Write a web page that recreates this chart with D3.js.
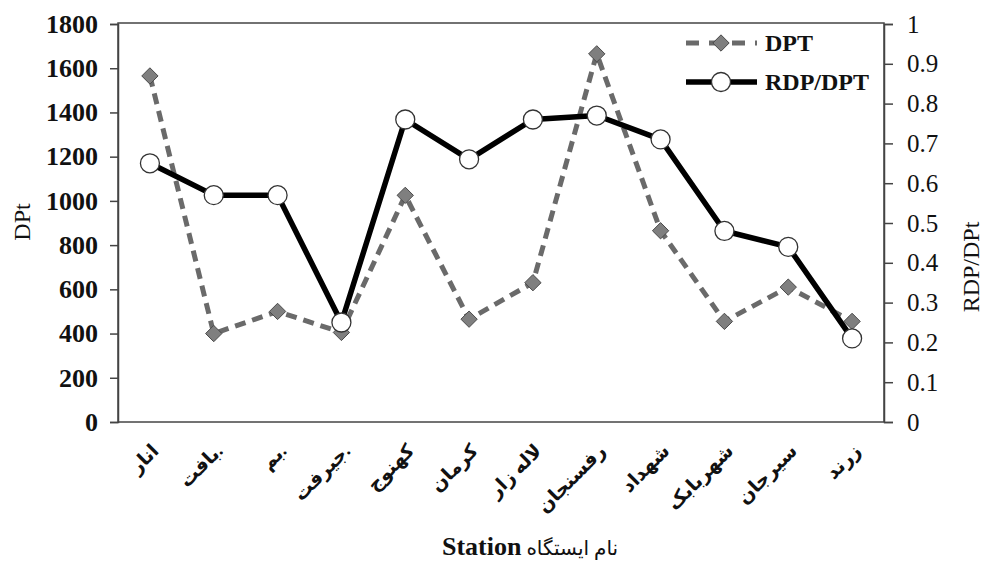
<!DOCTYPE html>
<html><head><meta charset="utf-8">
<script src="https://cdn.jsdelivr.net/npm/d3@7"></script>
<style>
body{margin:0;background:#fff;}
svg{display:block;}
</style></head>
<body>
<svg id="chart" width="983" height="563"></svg>
<script>
const stations = ["انار","بافت.","بم.","جیرفت.","کهنوج","کرمان","لاله زار","رفسنجان","شهداد","شهربابک","سیرجان","زرند"];
const dptValues = [1565,400,500,405,1025,465,630,1665,865,455,610,455];
const ratioValues = [0.65,0.57,0.57,0.25,0.76,0.66,0.76,0.77,0.71,0.48,0.44,0.21];
const leftTicks = [0,200,400,600,800,1000,1200,1400,1600,1800];
const rightTicks = [0,0.1,0.2,0.3,0.4,0.5,0.6,0.7,0.8,0.9,1];
const seriesNames = ["DPT","RDP/DPT"];

const svg = d3.select("#chart");
const L = 118, R = 884, T = 24, B = 422;
const serif = "'Liberation Serif','Times New Roman',serif";
const labelFont = "'Liberation Serif','DejaVu Sans',sans-serif";

const x = d3.scaleBand().domain(stations).range([L, R]);
const cx = d => x(d) + x.bandwidth()/2;
const yL = d3.scaleLinear().domain([0,1800]).range([B, T]);
const yR = d3.scaleLinear().domain([0,1]).range([B, T]);

// frame
svg.append("rect").attr("x",L).attr("y",T-1).attr("width",R-L).attr("height",B-T+1)
  .attr("fill","none").attr("stroke","#444").attr("stroke-width",1.5);

// left axis
const ga = svg.append("g").attr("transform",`translate(${L},0)`)
  .call(d3.axisLeft(yL).tickValues(leftTicks).tickSize(8).tickPadding(12).tickFormat(d3.format("d")));
ga.select(".domain").attr("stroke","#444").attr("stroke-width",1.5);
ga.selectAll(".tick line").attr("stroke","#444").attr("stroke-width",1.5);
ga.selectAll(".tick text").attr("font-family",serif).attr("font-weight","bold").attr("font-size",26).attr("fill","#111");

// right axis
const gr = svg.append("g").attr("transform",`translate(${R},0)`)
  .call(d3.axisRight(yR).tickValues(rightTicks).tickSize(9).tickPadding(14).tickFormat(d => d===0||d===1 ? String(d) : d3.format(".1f")(d)));
gr.select(".domain").attr("stroke","#444").attr("stroke-width",1.5);
gr.selectAll(".tick line").attr("stroke","#444").attr("stroke-width",1.5);
gr.selectAll(".tick text").attr("font-family",serif).attr("font-size",25).attr("fill","#111");

// x labels
svg.append("g").selectAll("text").data(stations).join("text")
  .attr("transform", d => `translate(${cx(d)+6},${448}) rotate(-45)`)
  .attr("text-anchor","end").attr("dy","0.3em")
  .attr("font-family",labelFont).attr("font-weight","bold").attr("font-size",19).attr("fill","#111")
  .text(d => d);

// axis titles
svg.append("text").attr("transform","translate(30,222) rotate(-90)")
  .attr("text-anchor","middle").attr("font-family",serif).attr("font-size",24).attr("fill","#111").text("DPt");
svg.append("text").attr("transform","translate(979,267) rotate(-90)")
  .attr("text-anchor","middle").attr("font-family",serif).attr("font-size",24).attr("fill","#111").text("RDP/DPt");
const tt = svg.append("text").attr("x",530).attr("y",555).attr("text-anchor","middle").attr("fill","#111");
tt.append("tspan").attr("font-family",serif).attr("font-weight","bold").attr("font-size",26).text("Station");
tt.append("tspan").attr("font-family",labelFont).attr("font-size",20).text(" نام ایستگاه");

// DPT series
const lineL = d3.line().x((d,i)=>cx(stations[i])).y(d=>yL(d));
svg.append("path").datum(dptValues).attr("d",lineL).attr("fill","none")
  .attr("stroke","#6a6a6a").attr("stroke-width",5).attr("stroke-dasharray","11,7");
const diamond = d3.symbol().type(d3.symbolDiamond2).size(170);
svg.append("g").selectAll("path").data(dptValues).join("path")
  .attr("transform",(d,i)=>`translate(${cx(stations[i])},${yL(d)})`)
  .attr("d",diamond).attr("fill","#7f7f7f").attr("stroke","#4a4a4a").attr("stroke-width",1);

// ratio series
const lineR = d3.line().x((d,i)=>cx(stations[i])).y(d=>yR(d));
svg.append("path").datum(ratioValues).attr("d",lineR).attr("fill","none")
  .attr("stroke","#000").attr("stroke-width",5.5).attr("stroke-linejoin","round");
svg.append("g").selectAll("circle").data(ratioValues).join("circle")
  .attr("cx",(d,i)=>cx(stations[i])).attr("cy",d=>yR(d)).attr("r",9.5)
  .attr("fill","#fff").attr("stroke","#333").attr("stroke-width",1.3);

// legend
const lg = svg.append("g");
lg.append("line").attr("x1",686).attr("x2",757).attr("y1",43).attr("y2",43)
  .attr("stroke","#6a6a6a").attr("stroke-width",5).attr("stroke-dasharray","13,10");
lg.append("path").attr("transform","translate(721,43)").attr("d",diamond).attr("fill","#7f7f7f").attr("stroke","#4a4a4a");
lg.append("text").attr("x",765).attr("y",51).attr("font-family",serif).attr("font-weight","bold").attr("font-size",24).attr("fill","#111").text(seriesNames[0]);
lg.append("line").attr("x1",686).attr("x2",757).attr("y1",82).attr("y2",82)
  .attr("stroke","#000").attr("stroke-width",5.5);
lg.append("circle").attr("cx",721).attr("cy",82).attr("r",9.5).attr("fill","#fff").attr("stroke","#333").attr("stroke-width",1.3);
lg.append("text").attr("x",765).attr("y",90).attr("font-family",serif).attr("font-weight","bold").attr("font-size",24).attr("fill","#111").text(seriesNames[1]);
</script>
</body></html>
